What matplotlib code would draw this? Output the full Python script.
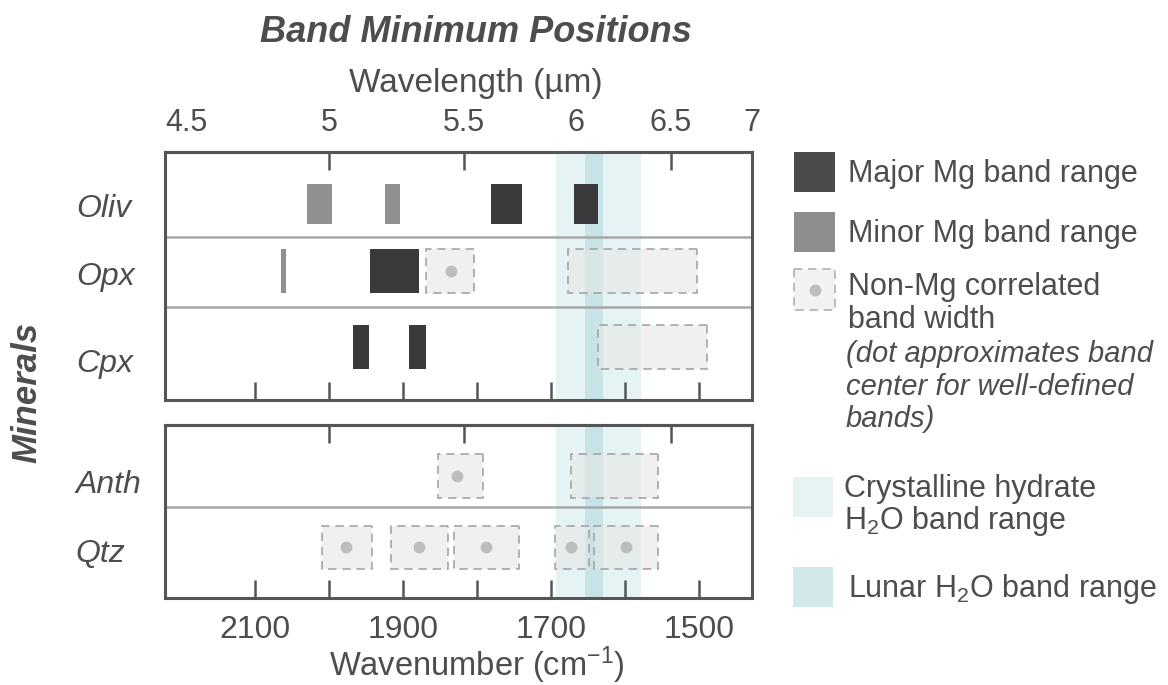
import numpy as np
import matplotlib
matplotlib.use("Agg")
import matplotlib.pyplot as plt
from matplotlib.patches import Rectangle
from matplotlib.transforms import blended_transform_factory

plt.rcParams["font.family"] = ["Liberation Sans", "DejaVu Sans"]
plt.rcParams["mathtext.fontset"] = "custom"
plt.rcParams["mathtext.rm"] = "Liberation Sans"
plt.rcParams["mathtext.it"] = "Liberation Sans:italic"

# ------------------------------------
# Data (wavenumber, cm-1)

top_minerals = ["Oliv", "Opx", "Cpx"]
bot_minerals = ["Anth", "Qtz"]

# (mineral, low, high)
major_bands = [
    ("Oliv", 1740, 1781),
    ("Oliv", 1637, 1669),
    ("Opx", 1879, 1945),
    ("Cpx", 1946, 1968),
    ("Cpx", 1870, 1892),
]
minor_bands = [
    ("Oliv", 1996, 2030),
    ("Oliv", 1905, 1925),
    ("Opx", 2059, 2066),
]
# (mineral, low, high, band center or None)
nonmg_bands = [
    ("Opx", 1805, 1870, 1835),
    ("Opx", 1503, 1678, None),
    ("Cpx", 1489, 1637, None),
    ("Anth", 1792, 1853, 1828),
    ("Anth", 1555, 1673, None),
    ("Qtz", 1942, 2010, 1977),
    ("Qtz", 1840, 1917, 1879),
    ("Qtz", 1744, 1832, 1788),
    ("Qtz", 1649, 1695, 1673),
    ("Qtz", 1555, 1642, 1599),
]
hydrate_range = (1579, 1694)
lunar_range = (1630, 1654)

wn_ticks = [2100, 2000, 1900, 1800, 1700, 1600, 1500]
wn_labels = ["2100", "", "1900", "", "1700", "", "1500"]
wl_ticks = [4.5, 5, 5.5, 6, 6.5, 7]
wl_labels = ["4.5", "5", "5.5", "6", "6.5", "7"]

# ------------------------------------
# Layout (pixels)

W, H = 1168, 685
txt = "#4d4d4d"
frame = "#555555"
c_major = "#3a3a3c"
c_minor = "#909093"
c_hydrate = "#e6f3f4"
c_lunar = "#c8e3e5"

# row center, box height, label baseline  (pixels from panel top)
rows = {
    "Oliv": (52, 40, 64.7),
    "Opx": (119.3, 44, 133),
    "Cpx": (194.7, 44, 219.7),
    "Anth": (50.5, 44, 67.7),
    "Qtz": (122, 43, 137),
}

fig = plt.figure(figsize=(W / 100, H / 100), dpi=100)


def px_axes(x0, y0, x1, y1):
    return fig.add_axes([x0 / W, 1 - y1 / H, (x1 - x0) / W, (y1 - y0) / H])


def inv(x):
    x = np.asarray(x, dtype=float)
    with np.errstate(divide="ignore"):
        return np.where(x == 0, np.inf, 1e4 / np.where(x == 0, 1, x))


ax_top = px_axes(165, 152, 752, 400)
ax_bot = px_axes(165, 425, 752, 598)

panels = [
    (ax_top, top_minerals, 248, [84.7, 155.3], True),
    (ax_bot, bot_minerals, 173, [81.7], False),
]

for ax, minerals, height, dividers, is_top in panels:
    ax.set_xlim(1e4 / 4.5, 1e4 / 7)
    ax.set_ylim(height, 0)
    ax.set_yticks([])

    ax.axvspan(*hydrate_range, color=c_hydrate, lw=0, zorder=1)
    ax.axvspan(*lunar_range, color=c_lunar, lw=0, zorder=1.1)
    for d in dividers:
        ax.axhline(d, color="#a8a8a8", lw=1.8, zorder=1.5)

    for name, lo, hi in major_bands + minor_bands:
        if name not in minerals:
            continue
        yc, h, _ = rows[name]
        col = c_major if (name, lo, hi) in major_bands else c_minor
        ax.add_patch(Rectangle((lo, yc - h / 2), hi - lo, h, facecolor=col,
                               edgecolor="none", zorder=3))

    for name, lo, hi, cen in nonmg_bands:
        if name not in minerals:
            continue
        yc, h, _ = rows[name]
        ax.add_patch(Rectangle((lo, yc - h / 2), hi - lo, h,
                               facecolor=(0.9, 0.9, 0.9, 0.6), edgecolor="#a5a5a5",
                               lw=1.2, linestyle=(0, (5, 3.5)), zorder=2))
        if cen is not None:
            ax.plot(cen, yc, "o", color="#bdbdbd", ms=8.5, mec="none", zorder=2.5)

    trans = blended_transform_factory(ax.transAxes, ax.transData)
    for name in minerals:
        ax.text(-0.152, rows[name][2], name, transform=trans, ha="left",
                va="baseline", style="italic", fontsize=23, color=txt)

    for sp in ax.spines.values():
        sp.set_color(frame)
        sp.set_linewidth(2.2)

    ax.set_xticks(wn_ticks)
    ax.set_xticklabels(wn_labels)
    ax.tick_params(axis="x", direction="in", length=13, width=1.8, color=frame,
                   labelsize=23, labelcolor=txt, pad=12, labelbottom=not is_top)

    sec = ax.secondary_xaxis("top", functions=(inv, inv))
    sec.set_xticks(wl_ticks, wl_labels)
    sec.tick_params(direction="in", length=13, width=1.8, color=frame,
                    labelsize=22, labelcolor=txt, pad=10, labeltop=is_top)
    sec.spines["top"].set_color(frame)
    sec.spines["top"].set_linewidth(2.2)
    if is_top:
        sec.get_xticklabels()[0].set_ha("left")

# ------------------------------------
# Titles and axis labels

fig.text(476 / W, 1 - 42 / H, "Band Minimum Positions", ha="center", va="baseline",
         fontsize=26, style="italic", weight="bold", color=txt)
fig.text(476 / W, 1 - 92 / H, "Wavelength (µm)", ha="center", va="baseline",
         fontsize=24, color=txt)
fig.text(477 / W, 1 - 676 / H, "Wavenumber (cm$^{\\mathregular{-1}}$)", ha="center",
         va="baseline", fontsize=23.5, color=txt)
fig.text(27 / W, 1 - 392 / H, "Minerals", rotation=90, ha="center", va="center",
         fontsize=25, style="italic", weight="bold", color=txt)

# ------------------------------------
# Legend (drawn in pixel coordinates)

lg = fig.add_axes([0, 0, 1, 1])
lg.set_xlim(0, W)
lg.set_ylim(H, 0)
lg.axis("off")

lg.add_patch(Rectangle((794, 152), 41, 40, facecolor="#4b4b4d", edgecolor="none"))
lg.add_patch(Rectangle((794, 212), 41, 40, facecolor="#8e8e91", edgecolor="none"))
lg.add_patch(Rectangle((794, 269), 41, 41, facecolor="#f2f2f2", edgecolor="#b0b0b0",
                       lw=1.2, linestyle=(0, (5, 3.5))))
lg.plot(814.5, 289.5, "o", color="#bdbdbd", ms=8.5, mec="none")
lg.add_patch(Rectangle((793, 477), 40, 40, facecolor=c_hydrate, edgecolor="none"))
lg.add_patch(Rectangle((793, 567), 40, 40, facecolor="#d3e8ea", edgecolor="none"))

legend_lines = [
    (848, 181.7, "Major Mg band range", "normal"),
    (848, 241.7, "Minor Mg band range", "normal"),
    (848, 295, "Non-Mg correlated", "normal"),
    (848, 328.3, "band width", "normal"),
    (846, 361.7, "(dot approximates band", "italic"),
    (846, 395, "center for well-defined", "italic"),
    (846, 427.3, "bands)", "italic"),
    (844, 496.7, "Crystalline hydrate", "normal"),
    (844, 529.3, "H$_\\mathregular{2}$O band range", "normal"),
    (848, 596.7, "Lunar H$_\\mathregular{2}$O band range", "normal"),
]
for x, y, s, st in legend_lines:
    lg.text(x, y, s, ha="left", va="baseline", fontsize=22 if st == "normal" else 21,
            style=st, color=txt)

plt.savefig("out.png", dpi=100)
